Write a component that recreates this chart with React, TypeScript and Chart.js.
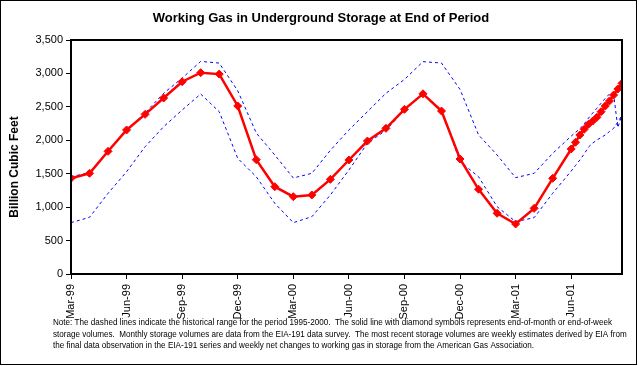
import React, { useEffect, useRef } from "react";
import { Chart, registerables } from "chart.js";

Chart.register(...registerables);

// ---------- data ----------
const TICK_LABELS = ["Mar-99", "Jun-99", "Sep-99", "Dec-99", "Mar-00", "Jun-00", "Sep-00", "Dec-00", "Mar-01", "Jun-01"];
const Y_TICKS = [0, 500, 1000, 1500, 2000, 2500, 3000, 3500];

const MONTHS = [
  "Mar-99", "Apr-99", "May-99", "Jun-99", "Jul-99", "Aug-99", "Sep-99", "Oct-99", "Nov-99", "Dec-99",
  "Jan-00", "Feb-00", "Mar-00", "Apr-00", "May-00", "Jun-00", "Jul-00", "Aug-00", "Sep-00", "Oct-00", "Nov-00", "Dec-00",
  "Jan-01", "Feb-01", "Mar-01", "Apr-01", "May-01",
];
const WEEKS = [
  "2001-06-01", "2001-06-08", "2001-06-15", "2001-06-22", "2001-06-29", "2001-07-06", "2001-07-13",
  "2001-07-20", "2001-07-27", "2001-08-03", "2001-08-10", "2001-08-17", "2001-08-24",
];

const STORAGE_MONTHLY = [
  1431, 1506, 1835, 2154, 2388, 2632, 2876, 3011, 2990, 2513,
  1710, 1306, 1157, 1182, 1416, 1705, 1989, 2179, 2463, 2695, 2438, 1720,
  1267, 908, 748, 982, 1431,
];
const STORAGE_WEEKLY = [1870, 1970, 2079, 2164, 2239, 2288, 2344, 2428, 2513, 2588, 2677, 2767, 2852];

const HIST_MAX_MONTHLY = [
  1455, 1515, 1840, 2154, 2410, 2703, 2930, 3180, 3155, 2740,
  2110, 1780, 1436, 1506, 1850, 2154, 2428, 2703, 2910, 3176, 3155, 2760,
  2080, 1780, 1441, 1506, 1805,
];
const HIST_MAX_WEEKLY = [2062, 2119, 2170, 2245, 2332, 2407, 2480, 2555, 2627, 2692, 2685, 2190, 2378];

const HIST_MIN_MONTHLY = [
  768, 848, 1207, 1530, 1904, 2203, 2453, 2692, 2428, 1730,
  1455, 1057, 768, 857, 1182, 1555, 1955, 2150, 2453, 2700, 2453, 1680,
  1455, 1007, 783, 843, 1207,
];
const HIST_MIN_WEEKLY = [1540, 1623, 1705, 1795, 1899, 1959, 2004, 2042, 2079, 2131, 2179, 2273, 2378];

const TITLE = "Working Gas in Underground Storage at End of Period";
const Y_TITLE = "Billion Cubic Feet";
const NOTE_LINES = [
  "Note: The dashed lines indicate the historical range for the period 1995-2000.  The solid line with diamond symbols represents end-of-month or end-of-week",
  "storage volumes.  Monthly storage volumes are data from the EIA-191 data survey.  The most recent storage volumes are weekly estimates derived by EIA from",
  "the final data observation in the EIA-191 series and weekly net changes to working gas in storage from the American Gas Association.",
];

// ---------- helpers ----------
const MON: Record<string, number> = { Jan: 1, Feb: 2, Mar: 3, Apr: 4, May: 5, Jun: 6, Jul: 7, Aug: 8, Sep: 9, Oct: 10, Nov: 11, Dec: 12 };
function monthIndex(lbl: string): number {
  const [m, yy] = lbl.split("-");
  const y = Number(yy) > 50 ? 1900 + Number(yy) : 2000 + Number(yy);
  return (y - 1999) * 12 + (MON[m] - 3);
}
function dateIndex(s: string): number {
  const [y, m, d] = s.split("-").map(Number);
  const dim = new Date(y, m, 0).getDate();
  return (y - 1999) * 12 + (m - 3) + (d - 1) / dim;
}
function series(monthly: number[], weekly: number[]) {
  return [
    ...MONTHS.map((mo, i) => ({ x: monthIndex(mo), y: monthly[i] })),
    ...WEEKS.map((w, i) => ({ x: dateIndex(w), y: weekly[i] })),
  ];
}

const FONT = "'Liberation Sans', Arial, sans-serif";

const decorPlugin = {
  id: "decor",
  afterDraw(chart: any) {
    const { ctx, chartArea } = chart;
    ctx.save();
    // plot frame
    ctx.strokeStyle = "#000";
    ctx.lineWidth = 2;
    ctx.strokeRect(chartArea.left, chartArea.top, chartArea.right - chartArea.left, chartArea.bottom - chartArea.top);
    // outer frame
    ctx.lineWidth = 1;
    ctx.strokeRect(0.5, 0.5, 636, 364);
    ctx.fillStyle = "#000";
    // title
    ctx.font = `bold 13px ${FONT}`;
    ctx.textAlign = "center";
    ctx.textBaseline = "alphabetic";
    const tw = ctx.measureText(TITLE).width;
    const ts = Math.min(1, 344 / tw);
    ctx.save();
    ctx.translate(321, 22);
    ctx.scale(ts, 1);
    ctx.fillText(TITLE, 0, 0);
    ctx.restore();
    // y title
    ctx.save();
    ctx.font = `bold 12px ${FONT}`;
    ctx.translate(15, 167);
    ctx.rotate(-Math.PI / 2);
    ctx.textAlign = "center";
    ctx.textBaseline = "middle";
    ctx.fillText(Y_TITLE, 0, 0);
    ctx.restore();
    // note
    ctx.font = `9px ${FONT}`;
    ctx.textAlign = "left";
    ctx.textBaseline = "middle";
    const nw = ctx.measureText(NOTE_LINES[0]).width;
    const ns = 559 / nw;
    NOTE_LINES.forEach((line, i) => {
      ctx.save();
      ctx.translate(53, 323 + i * 11.5);
      ctx.scale(ns, 1);
      ctx.fillText(line, 0, 0);
      ctx.restore();
    });
    ctx.restore();
  },
};

export default function App() {
  const ref = useRef<HTMLCanvasElement | null>(null);
  useEffect(() => {
    document.body.style.margin = "0";
    if (!ref.current) return;
    const xMax = dateIndex(WEEKS[WEEKS.length - 1]);
    const chart = new Chart(ref.current, {
      type: "line",
      data: {
        datasets: [
          {
            data: series(STORAGE_MONTHLY, STORAGE_WEEKLY),
            borderColor: "#FF0000",
            backgroundColor: "#FF0000",
            borderWidth: 2.5,
            pointStyle: "rectRot",
            pointRadius: 4,
            pointBorderWidth: 1,
            pointBackgroundColor: "#FF0000",
            pointBorderColor: "#FF0000",
            order: 0,
          },
          {
            data: series(HIST_MAX_MONTHLY, HIST_MAX_WEEKLY),
            borderColor: "#0000FF",
            borderWidth: 1,
            borderDash: [3, 3],
            pointRadius: 0,
            order: 1,
          },
          {
            data: series(HIST_MIN_MONTHLY, HIST_MIN_WEEKLY),
            borderColor: "#0000FF",
            borderWidth: 1,
            borderDash: [3, 3],
            pointRadius: 0,
            order: 1,
          },
        ],
      },
      options: {
        responsive: false,
        animation: false,
        devicePixelRatio: 1,
        layout: { padding: { top: 40, right: 17, left: 0, bottom: 0 } },
        plugins: { legend: { display: false }, tooltip: { enabled: false }, title: { display: false } },
        scales: {
          x: {
            type: "linear",
            min: 0,
            max: xMax,
            afterFit(scale: any) {
              scale.height = 92;
            },
            afterBuildTicks(scale: any) {
              scale.ticks = TICK_LABELS.map((l) => ({ value: monthIndex(l) }));
            },
            ticks: {
              autoSkip: false,
              minRotation: 90,
              maxRotation: 90,
              padding: 5,
              color: "#000",
              font: { family: FONT, size: 11 },
              callback: (v: any) => {
                const idx = TICK_LABELS.findIndex((l) => Math.abs(monthIndex(l) - Number(v)) < 1e-6);
                return idx >= 0 ? TICK_LABELS[idx] : "";
              },
            },
            grid: { drawOnChartArea: false, drawTicks: true, tickLength: 5, color: "#000" },
            border: { display: false },
          },
          y: {
            min: 0,
            max: 3500,
            afterFit(scale: any) {
              scale.width = 71;
            },
            afterBuildTicks(scale: any) {
              scale.ticks = Y_TICKS.map((v) => ({ value: v }));
            },
            ticks: {
              padding: 3,
              color: "#000",
              font: { family: FONT, size: 11 },
              callback: (v: any) => Number(v).toLocaleString("en-US"),
            },
            grid: { drawOnChartArea: false, drawTicks: true, tickLength: 5, color: "#000" },
            border: { display: false },
          },
        },
      },
      plugins: [decorPlugin],
    });
    return () => chart.destroy();
  }, []);
  return (
    <div style={{ width: 639, height: 366 }}>
      <canvas ref={ref} width={639} height={366} />
    </div>
  );
}
